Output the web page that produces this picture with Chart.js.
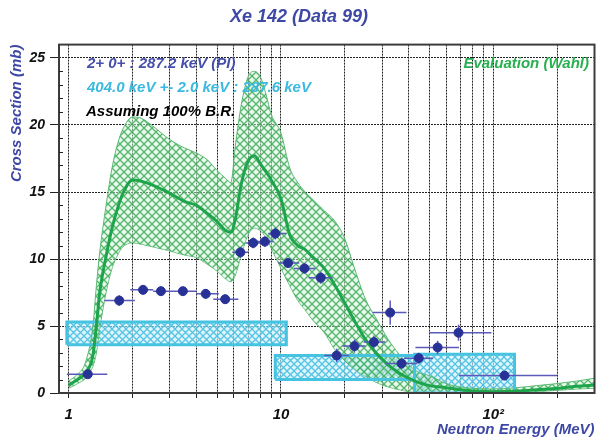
<!DOCTYPE html>
<html>
<head>
<meta charset="utf-8">
<title>Xe 142 (Data 99)</title>
<style>
html, body { margin: 0; padding: 0; background: #fff; }
</style>
<script src="https://cdn.jsdelivr.net/npm/chart.js"></script>
<script>
// evaluation (Wahl): energy grid, central value and band limits
const evalE    = [1.0, 1.1, 1.2, 1.3, 1.35, 1.4, 1.5, 1.6, 1.7, 1.8, 2.0, 2.2, 2.5, 3.0, 3.5, 4.0, 4.5, 5.0, 5.5, 5.8, 6.1, 6.5, 7.0, 7.5, 8.0, 8.5, 9.0, 10, 11, 12, 13, 14, 16, 18, 20, 22, 25, 28, 32, 36, 40, 45, 50, 60, 70, 80, 100, 130, 160, 200, 250, 300];
const evalMid  = [0.6, 1.0, 1.5, 2.8, 5.0, 7.5, 10.2, 12.3, 13.8, 14.9, 15.9, 15.8, 15.5, 14.9, 14.3, 14.0, 13.4, 12.8, 12.1, 12.0, 13.0, 15.6, 17.3, 17.7, 17.1, 16.5, 15.9, 14.5, 11.8, 11.0, 10.7, 10.2, 9.3, 8.0, 6.7, 5.5, 4.0, 3.0, 2.1, 1.5, 1.1, 0.75, 0.55, 0.4, 0.25, 0.15, 0.1, 0.15, 0.25, 0.35, 0.5, 0.6];
const evalHigh = [0.9, 1.4, 2.3, 5.0, 8.0, 10.5, 14.0, 16.8, 18.6, 19.7, 20.6, 20.5, 19.9, 18.9, 18.3, 17.9, 17.4, 16.6, 16.0, 15.7, 18.5, 21.5, 23.6, 24.0, 23.6, 22.3, 20.8, 19.4, 16.8, 15.7, 15.0, 14.5, 13.6, 12.8, 11.5, 9.5, 7.0, 5.6, 4.0, 2.9, 2.1, 1.5, 1.3, 0.7, 0.45, 0.35, 0.3, 0.4, 0.55, 0.7, 0.9, 1.1];
const evalLow  = [0.35, 0.7, 1.1, 2.0, 3.0, 4.8, 7.5, 9.3, 10.3, 10.9, 11.2, 11.1, 10.9, 10.6, 10.3, 10.1, 9.6, 9.1, 8.5, 8.3, 8.8, 10.3, 11.8, 12.3, 12.1, 11.6, 10.8, 9.3, 8.0, 6.9, 6.2, 5.5, 4.5, 3.2, 2.4, 1.8, 1.25, 0.8, 0.45, 0.25, 0.1, 0.05, 0.03, 0.02, 0.02, 0.02, 0.02, 0.05, 0.1, 0.2, 0.3, 0.35];

// 2+ 0+ : 287.2 keV (PI) measured points
const ptE   = [1.23, 1.73, 2.24, 2.72, 3.45, 4.42, 5.46, 6.44, 7.4, 8.4, 9.4, 10.8, 12.9, 15.4, 18.3, 22.2, 27.4, 32.7, 37.0, 44.6, 54.7, 68.6, 113];
const ptV   = [1.4, 6.9, 7.7, 7.6, 7.6, 7.4, 7.0, 10.5, 11.2, 11.3, 11.9, 9.7, 9.3, 8.6, 2.8, 3.5, 3.8, 6.0, 2.2, 2.6, 3.4, 4.5, 1.3];
const ptElo = [0.98, 1.47, 1.95, 2.5, 3.0, 4.0, 4.8, 5.9, 6.8, 7.7, 8.7, 9.7, 11.5, 13.5, 16.0, 19.5, 24.5, 27.0, 31.0, 38.0, 43.0, 50.0, 69.0];
const ptEhi = [1.52, 2.05, 2.5, 3.0, 4.0, 5.1, 6.3, 7.0, 8.1, 9.2, 10.6, 12.2, 14.5, 17.5, 21.0, 25.0, 31.0, 39.0, 44.0, 52.0, 69.0, 98.0, 200];
const ptDv  = [0.2, 0.4, 0.35, 0.35, 0.3, 0.35, 0.35, 0.4, 0.4, 0.4, 0.45, 0.35, 0.4, 0.45, 0.5, 0.5, 0.5, 0.9, 0.4, 0.4, 0.5, 0.6, 0.3];

// 404.0 keV +- 2.0 keV : 287.6 keV boxes
const boxElo = [0.98, 9.4, 42.6];
const boxEhi = [10.6, 42.6, 126];
const boxVlo = [3.6, 1.0, 0];
const boxVhi = [5.3, 2.8, 2.9];

// axes
const xTicks = [1, 2, 3, 4, 5, 6, 7, 8, 9, 10, 20, 30, 40, 50, 60, 70, 80, 90, 100, 200];
const xLabels = { 1: '1', 10: '10', 100: '10\u00b2' };
const yTicks = [0, 5, 10, 15, 20, 25];

const notes = [
	'2+ 0+ : 287.2 keV (PI)',
	'404.0 keV +- 2.0 keV : 287.6 keV',
	'Assuming 100% B.R.',
	'Evaluation (Wahl)'
];

const FONT = '"Liberation Sans", Arial, sans-serif';
const BLUE = 'rgb(62,72,165)';
const CYAN = 'rgb(70,195,225)';
const GREEN = 'rgb(30,165,75)';
const NAVY = 'rgb(40,50,150)';
const GRID = 'rgba(10,10,10,0.9)';

function hatch(bg, line, size)
{
	const c = document.createElement('canvas');
	c.width = c.height = size;
	const g = c.getContext('2d');
	g.fillStyle = bg;
	g.fillRect(0, 0, size, size);
	g.strokeStyle = line;
	g.lineWidth = 1.3;
	g.beginPath();
	g.moveTo(-1, -1); g.lineTo(size + 1, size + 1);
	g.moveTo(-1, size + 1); g.lineTo(size + 1, -1);
	g.stroke();
	return g.createPattern(c, 'repeat');
}

const pairs = (xs, ys) => xs.map((x, i) => ({ x: x, y: ys[i] }));
const bi = (size) => ({ family: FONT, size: size, style: 'italic', weight: 'bold' });

const errorBars = {
	id: 'errorBars',
	beforeDatasetDraw(chart, args) {
		if (chart.data.datasets[args.index].label !== 'points') return;
		const { ctx, scales: { x, y } } = chart;
		ctx.save();
		ctx.strokeStyle = 'rgb(90,90,185)';
		ctx.lineWidth = 1.5;
		ctx.beginPath();
		ptE.forEach((e, i) => {
			const px = x.getPixelForValue(e), py = y.getPixelForValue(ptV[i]);
			ctx.moveTo(x.getPixelForValue(ptElo[i]), py);
			ctx.lineTo(x.getPixelForValue(ptEhi[i]), py);
			ctx.moveTo(px, y.getPixelForValue(ptV[i] - ptDv[i]));
			ctx.lineTo(px, y.getPixelForValue(ptV[i] + ptDv[i]));
		});
		ctx.stroke();
		ctx.restore();
	}
};

const decor = {
	id: 'decor',
	afterDatasetsDraw(chart) {
		const { ctx, chartArea: a, scales: { y } } = chart;
		ctx.save();
		ctx.strokeStyle = 'rgb(60,60,60)';
		ctx.lineWidth = 2;
		ctx.strokeRect(a.left, a.top, a.right - a.left, a.bottom - a.top);
		// minor y ticks
		ctx.lineWidth = 1;
		ctx.strokeStyle = '#222';
		ctx.beginPath();
		for (let v = 1; v < 26; v++) {
			if (v % 5 === 0) continue;
			const py = Math.round(y.getPixelForValue(v)) + 0.5;
			ctx.moveTo(a.left, py);
			ctx.lineTo(a.left + 4, py);
		}
		ctx.stroke();
		// notes
		ctx.font = 'italic bold 15px ' + FONT;
		ctx.textBaseline = 'middle';
		ctx.fillStyle = 'rgb(70,80,170)';
		ctx.fillText(notes[0], 87, 64);
		ctx.fillStyle = 'rgb(60,185,225)';
		ctx.fillText(notes[1], 87, 88);
		ctx.fillStyle = '#000';
		ctx.fillText(notes[2], 86, 112);
		ctx.fillStyle = 'rgb(40,175,80)';
		ctx.textAlign = 'right';
		ctx.fillText(notes[3], 589, 64);
		ctx.restore();
	}
};

function load()
{
	const greenHatch = hatch('rgba(215,242,220,0.5)', 'rgba(55,170,85,0.85)', 8);
	const cyanHatch = hatch('rgba(200,240,250,0.6)', 'rgba(70,190,225,0.9)', 7);

	const datasets = [];
	boxElo.forEach((lo, i) => {
		const hi = boxEhi[i];
		datasets.push({
			label: 'boxfill', data: [{ x: lo, y: boxVhi[i] }, { x: hi, y: boxVhi[i] }],
			borderColor: 'rgba(0,0,0,0)', borderWidth: 1, pointRadius: 0,
			fill: { value: boxVlo[i] }, backgroundColor: cyanHatch, order: 10
		});
		datasets.push({
			label: 'box', data: [
				{ x: lo, y: boxVlo[i] }, { x: hi, y: boxVlo[i] }, { x: hi, y: boxVhi[i] },
				{ x: lo, y: boxVhi[i] }, { x: lo, y: boxVlo[i] }],
			borderColor: CYAN, borderWidth: 3, pointRadius: 0, fill: false, order: 6.5
		});
	});
	datasets.push({
		label: 'low', data: pairs(evalE, evalLow), borderColor: 'rgb(90,185,115)',
		borderWidth: 1, pointRadius: 0, cubicInterpolationMode: 'monotone', fill: false, order: 8
	});
	datasets.push({
		label: 'high', data: pairs(evalE, evalHigh), borderColor: 'rgb(90,185,115)',
		borderWidth: 1, pointRadius: 0, cubicInterpolationMode: 'monotone',
		fill: '-1', backgroundColor: greenHatch, order: 7
	});
	datasets.push({
		label: 'eval', data: pairs(evalE, evalMid), borderColor: GREEN,
		borderWidth: 3, pointRadius: 0, cubicInterpolationMode: 'monotone', fill: false, order: 6
	});
	datasets.push({
		label: 'points', data: pairs(ptE, ptV), showLine: false,
		pointRadius: 4.5, pointBackgroundColor: NAVY, pointBorderColor: NAVY, order: 1
	});

	new Chart(document.getElementById('chart'), {
		type: 'line',
		data: { datasets: datasets },
		options: {
			responsive: false,
			animation: false,
			layout: { padding: { right: 2 } },
			plugins: {
				legend: { display: false },
				tooltip: { enabled: false },
				title: {
					display: true, text: 'Xe 142 (Data 99)', color: BLUE,
					font: bi(18), padding: { top: 6, bottom: 17 }
				}
			},
			scales: {
				x: {
					type: 'logarithmic', min: 0.9, max: 300,
					afterBuildTicks: (s) => { s.ticks = xTicks.map((v) => ({ value: v })); },
					afterFit: (s) => { s.height = 47; },
					ticks: {
						autoSkip: false, maxRotation: 0, padding: 8, color: '#111', font: bi(15),
						callback: (v) => xLabels[v] || ''
					},
					grid: { color: GRID, lineWidth: 1, tickLength: 5, tickColor: GRID },
					border: { display: false, dash: [2, 1] },
					title: {
						display: true, text: 'Neutron Energy (MeV)', align: 'end', color: BLUE,
						font: bi(15), padding: { top: 0, bottom: 1 }
					}
				},
				y: {
					min: 0, max: 26,
					afterBuildTicks: (s) => { s.ticks = yTicks.map((v) => ({ value: v })); },
					afterFit: (s) => { s.width = 59; },
					ticks: { padding: 5, color: '#111', font: bi(14) },
					grid: { color: GRID, lineWidth: 1, tickLength: 9, tickColor: '#222' },
					border: { display: false, dash: [2, 1] },
					title: {
						display: true, text: 'Cross Section (mb)', align: 'end', color: BLUE,
						font: bi(15), padding: { top: 8, bottom: 0 }
					}
				}
			}
		},
		plugins: [errorBars, decor]
	});
}
</script>
</head>
<body onload="load();">
<canvas id="chart" width="600" height="440"></canvas>
</body>
</html>
